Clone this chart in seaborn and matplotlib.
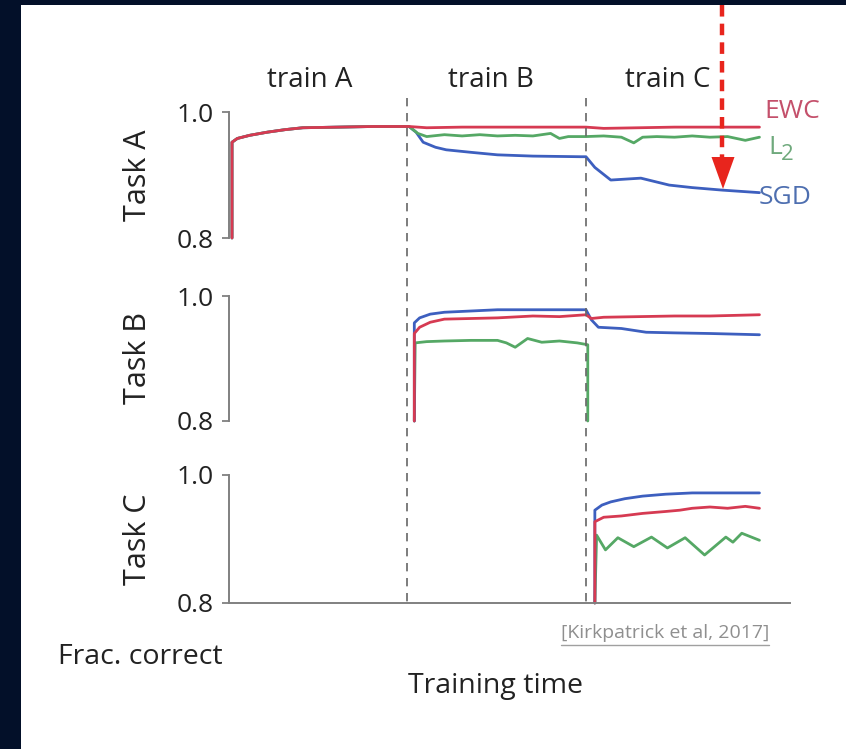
import numpy as np
import pandas as pd
import matplotlib
matplotlib.use("Agg")
import matplotlib.pyplot as plt
import seaborn as sns
from matplotlib.lines import Line2D
from matplotlib.patches import Polygon, Rectangle
from matplotlib.transforms import blended_transform_factory

# ---------------- data ----------------
methods = ["SGD", "L2", "EWC"]
phase_names = ["train A", "train B", "train C"]
phase_bounds = [0.99, 2.0]
arrow_x = 2.77

# shared rise during "train A"
phaseA_x = [0.0, 0.0, 0.03, 0.1, 0.2, 0.3, 0.4, 0.6, 0.8, 1.0]
phaseA_y = [0.80, 0.952, 0.958, 0.963, 0.968, 0.972, 0.975, 0.976, 0.977, 0.977]

# Task A after train A
taskA_ewc_x = [1.1, 1.3, 1.5, 1.7, 1.9, 2.0, 2.1, 2.3, 2.5, 2.7, 2.98]
taskA_ewc_y = [0.975, 0.976, 0.976, 0.976, 0.976, 0.976, 0.974, 0.975, 0.976, 0.976, 0.976]
taskA_l2_x = [1.05, 1.1, 1.2, 1.3, 1.4, 1.5, 1.6, 1.7, 1.8, 1.85, 1.9, 2.0, 2.1, 2.2,
              2.27, 2.32, 2.4, 2.5, 2.6, 2.7, 2.8, 2.9, 2.98]
taskA_l2_y = [0.966, 0.961, 0.964, 0.962, 0.964, 0.962, 0.963, 0.962, 0.966, 0.958, 0.961,
              0.961, 0.962, 0.960, 0.951, 0.960, 0.961, 0.960, 0.962, 0.960, 0.961, 0.955, 0.960]
taskA_sgd_x = [1.04, 1.08, 1.15, 1.21, 1.35, 1.5, 1.7, 1.97, 2.0, 2.05, 2.14, 2.31, 2.47,
               2.6, 2.77, 2.98]
taskA_sgd_y = [0.968, 0.952, 0.944, 0.940, 0.936, 0.932, 0.930, 0.929, 0.929, 0.912, 0.892,
               0.895, 0.884, 0.880, 0.876, 0.872]

# Task B
taskB_ewc_x = [1.03, 1.03, 1.06, 1.12, 1.2, 1.35, 1.5, 1.7, 1.85, 2.0, 2.03, 2.1, 2.3, 2.5, 2.7, 2.98]
taskB_ewc_y = [0.80, 0.940, 0.950, 0.958, 0.963, 0.964, 0.965, 0.968, 0.967, 0.970, 0.964,
               0.966, 0.967, 0.968, 0.968, 0.970]
taskB_sgd_x = [1.03, 1.03, 1.06, 1.12, 1.2, 1.35, 1.5, 1.7, 2.0, 2.03, 2.07, 2.2, 2.34, 2.5, 2.7, 2.98]
taskB_sgd_y = [0.80, 0.957, 0.965, 0.971, 0.974, 0.976, 0.978, 0.978, 0.978, 0.962, 0.950,
               0.948, 0.942, 0.941, 0.940, 0.938]
taskB_l2_x = [1.03, 1.035, 1.1, 1.2, 1.35, 1.5, 1.55, 1.6, 1.67, 1.75, 1.85, 1.95, 2.01, 2.01]
taskB_l2_y = [0.80, 0.925, 0.927, 0.928, 0.929, 0.929, 0.925, 0.918, 0.932, 0.926, 0.928,
              0.925, 0.922, 0.80]

# Task C
taskC_ewc_x = [2.05, 2.05, 2.1, 2.2, 2.32, 2.45, 2.53, 2.6, 2.7, 2.8, 2.9, 2.98]
taskC_ewc_y = [0.80, 0.927, 0.934, 0.936, 0.940, 0.943, 0.945, 0.948, 0.950, 0.948, 0.951, 0.948]
taskC_sgd_x = [2.05, 2.05, 2.09, 2.14, 2.22, 2.32, 2.45, 2.6, 2.8, 2.98]
taskC_sgd_y = [0.80, 0.945, 0.953, 0.958, 0.963, 0.967, 0.970, 0.972, 0.972, 0.972]
taskC_l2_x = [2.05, 2.06, 2.11, 2.18, 2.27, 2.37, 2.46, 2.56, 2.67, 2.79, 2.83, 2.88, 2.98]
taskC_l2_y = [0.80, 0.906, 0.883, 0.902, 0.888, 0.903, 0.886, 0.902, 0.875, 0.903, 0.895, 0.909, 0.898]

panel_labels = ["Task A", "Task B", "Task C"]
ytick_vals = [0.8, 1.0]
ytick_labels = ["0.8", "1.0"]

# ---------------- style ----------------
sns.set_theme(style="white")
plt.rcParams['font.family'] = ['Open Sans', 'DejaVu Sans']

line_colors = {"EWC": "#d63a52", "L2": "#55a865", "SGD": "#3d5fbf"}
label_colors = {"EWC": "#c4506b", "L2": "#6fa97c", "SGD": "#4e6fb0"}
spine_col = "#808080"
text_col = "#222222"

W, H = 846, 749
fig = plt.figure(figsize=(W / 100, H / 100), dpi=100)
fig.patch.set_facecolor("white")


def fx(px):
    return px / W


def fy(py):
    return 1 - py / H


X_LEFT, X_RIGHT = 229, 790
PX_PER_UNIT = 177.0
x0 = -(232 - X_LEFT) / PX_PER_UNIT
x1 = x0 + (X_RIGHT - X_LEFT) / PX_PER_UNIT
panel_px = [(112, 238), (296, 421), (475, 603)]

series = [
    {"SGD": (phaseA_x + taskA_sgd_x, phaseA_y + taskA_sgd_y),
     "L2": (phaseA_x + taskA_l2_x, phaseA_y + taskA_l2_y),
     "EWC": (phaseA_x + taskA_ewc_x, phaseA_y + taskA_ewc_y)},
    {"L2": (taskB_l2_x, taskB_l2_y),
     "SGD": (taskB_sgd_x, taskB_sgd_y),
     "EWC": (taskB_ewc_x, taskB_ewc_y)},
    {"L2": (taskC_l2_x, taskC_l2_y),
     "SGD": (taskC_sgd_x, taskC_sgd_y),
     "EWC": (taskC_ewc_x, taskC_ewc_y)},
]

axes = []
for i, (top, bot) in enumerate(panel_px):
    ax = fig.add_axes([fx(X_LEFT), fy(bot), fx(X_RIGHT) - fx(X_LEFT), (bot - top) / H])
    ax.set_facecolor("none")
    for m, (xs, ys) in series[i].items():
        df = pd.DataFrame({"t": xs, "acc": ys})
        sns.lineplot(data=df, x="t", y="acc", ax=ax, color=line_colors[m], linewidth=2.0,
                     estimator=None, sort=False, legend=False)
    for ln in ax.lines:
        ln.set_clip_on(False)
        ln.set_solid_joinstyle("round")
    ax.set_xlim(x0, x1)
    ax.set_ylim(0.8, 1.0)
    ax.set_xlabel("")
    ax.set_ylabel("")
    ax.set_xticks([])
    ax.set_yticks(ytick_vals)
    ax.set_yticklabels(ytick_labels)
    ax.tick_params(axis="y", left=True, length=5, width=1.3, color=spine_col,
                   labelsize=19, labelcolor=text_col, pad=6)
    for s in ["top", "right"]:
        ax.spines[s].set_visible(False)
    ax.spines["left"].set_color(spine_col)
    ax.spines["left"].set_linewidth(1.4)
    if i < 2:
        ax.spines["bottom"].set_visible(False)
    else:
        ax.spines["bottom"].set_color(spine_col)
        ax.spines["bottom"].set_linewidth(1.4)
    axes.append(ax)

    cy = (top + bot) / 2
    fig.text(fx(138), fy(cy), panel_labels[i], rotation=90, ha="center", va="center",
             fontsize=22, color=text_col)

axC = axes[-1]
btr = blended_transform_factory(axC.transData, fig.transFigure)

# phase boundaries
for xb in phase_bounds:
    fig.add_artist(Line2D([xb, xb], [fy(98), fy(603)], transform=btr, color="#666666",
                          linewidth=1.2, linestyle=(0, (5, 4))))

# phase titles
phase_centers_px = [310, 491, 668]
for name, cxp in zip(phase_names, phase_centers_px):
    fig.text(fx(cxp), fy(80), name, ha="center", va="center", fontsize=20, color=text_col)

# method labels
fig.text(fx(764), fy(111), "EWC", ha="left", va="center", fontsize=19, color=label_colors["EWC"])
fig.text(fx(768), fy(148), "L", ha="left", va="center", fontsize=19, color=label_colors["L2"])
fig.text(fx(781), fy(155), "2", ha="left", va="center", fontsize=16, color=label_colors["L2"])
fig.text(fx(759), fy(197), "SGD", ha="left", va="center", fontsize=19, color=label_colors["SGD"])

# red dashed arrow
fig.add_artist(Line2D([arrow_x, arrow_x], [fy(5), fy(160)], transform=btr, color="#e8251d",
                      linewidth=3.2, linestyle=(0, (2.6, 1.6))))
fig.add_artist(Polygon([(fx(711.5), fy(157)), (fx(734.5), fy(157)), (fx(723), fy(189))],
                       closed=True, transform=fig.transFigure, facecolor="#e8251d",
                       edgecolor="none"))

# axis captions
fig.text(fx(58), fy(657), "Frac. correct", ha="left", va="center", fontsize=20.5, color=text_col)
fig.text(fx(495), fy(686), "Training time", ha="center", va="center", fontsize=20.5, color=text_col)

# citation
fig.text(fx(665), fy(633), "[Kirkpatrick et al, 2017]", ha="center", va="center",
         fontsize=14, color="#8f8f8f")
fig.add_artist(Line2D([fx(561), fx(769)], [fy(645), fy(645)], transform=fig.transFigure,
                      color="#a0a0a0", linewidth=1.0))

# dark frame
fig.add_artist(Rectangle((0, 0), fx(21), 1, transform=fig.transFigure,
                         facecolor="#031029", edgecolor="none", zorder=10))
fig.add_artist(Rectangle((0, fy(5)), 1, 5 / H, transform=fig.transFigure,
                         facecolor="#031029", edgecolor="none", zorder=10))

fig.savefig("out.png", dpi=100, facecolor="white")
